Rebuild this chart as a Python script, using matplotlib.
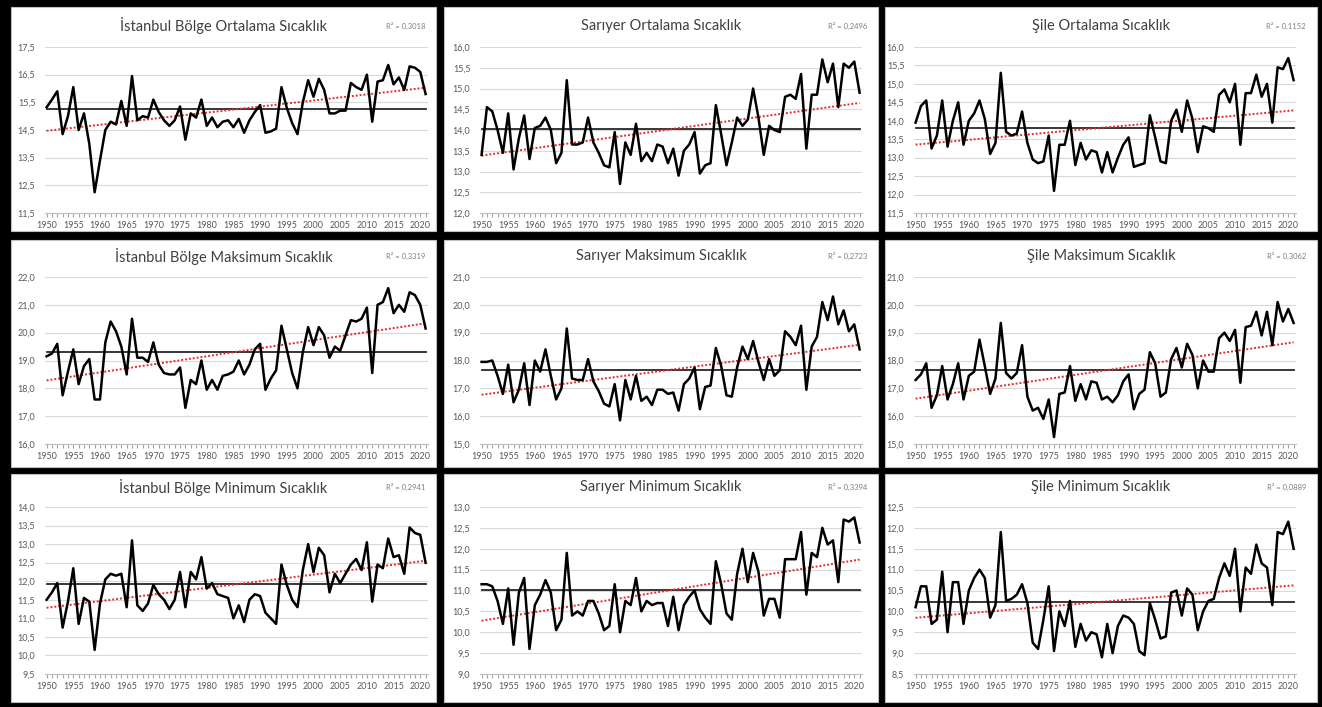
import numpy as np
import matplotlib.pyplot as plt
from matplotlib.patches import Rectangle

plt.rcParams['font.family'] = ['Lato', 'DejaVu Sans']

years = np.arange(1950, 2022)

# yearly values
ist_ort = [15.32, 15.6, 15.9, 14.35, 15.0, 16.05, 14.5, 15.1, 14.0, 12.25,
           13.4, 14.5, 14.8, 14.7, 15.55, 14.65, 16.45, 14.85, 15.0, 14.95,
           15.6, 15.15, 14.85, 14.65, 14.85, 15.35, 14.15, 15.1, 14.95, 15.6,
           14.65, 14.95, 14.6, 14.8, 14.85, 14.6, 14.9, 14.4, 14.85, 15.15,
           15.4, 14.4, 14.45, 14.55, 16.05, 15.3, 14.75, 14.35, 15.5, 16.3,
           15.7, 16.35, 15.95, 15.1, 15.1, 15.2, 15.2, 16.2, 16.05, 15.95,
           16.5, 14.8, 16.25, 16.3, 16.85, 16.15, 16.4, 15.95, 16.8, 16.75,
           16.6, 15.8]
sar_ort = [13.4, 14.55, 14.45, 14.0, 13.45, 14.4, 13.05, 13.8, 14.35, 13.3,
           14.05, 14.1, 14.3, 14.0, 13.2, 13.45, 15.2, 13.65, 13.65, 13.7,
           14.3, 13.7, 13.45, 13.15, 13.1, 13.95, 12.7, 13.7, 13.4, 14.15,
           13.25, 13.45, 13.25, 13.65, 13.6, 13.2, 13.55, 12.9, 13.5, 13.65,
           13.95, 12.95, 13.15, 13.2, 14.6, 13.9, 13.15, 13.7, 14.3, 14.1,
           14.25, 15.0, 14.3, 13.4, 14.1, 14.0, 13.95, 14.8, 14.85, 14.75,
           15.35, 13.55, 14.85, 14.85, 15.7, 15.15, 15.6, 14.55, 15.6, 15.5,
           15.65, 14.9]
sile_ort = [13.95, 14.4, 14.55, 13.25, 13.6, 14.55, 13.3, 14.0, 14.5, 13.35,
            14.0, 14.2, 14.55, 14.05, 13.1, 13.4, 15.3, 13.7, 13.6, 13.65,
            14.25, 13.4, 12.95, 12.85, 12.9, 13.6, 12.1, 13.35, 13.35, 14.0,
            12.8, 13.4, 12.95, 13.2, 13.15, 12.6, 13.15, 12.6, 13.0, 13.35,
            13.55, 12.75, 12.8, 12.85, 14.15, 13.55, 12.9, 12.85, 14.0, 14.3,
            13.7, 14.55, 14.05, 13.15, 13.85, 13.8, 13.7, 14.7, 14.85, 14.5,
            15.0, 13.35, 14.75, 14.75, 15.25, 14.65, 15.0, 13.95, 15.45, 15.4,
            15.7, 15.1]
ist_max = [19.15, 19.25, 19.6, 17.75, 18.6, 19.4, 18.15, 18.8, 19.05, 17.6,
           17.6, 19.65, 20.4, 20.05, 19.5, 18.5, 20.5, 19.1, 19.1, 18.95,
           19.65, 18.85, 18.55, 18.5, 18.5, 18.75, 17.3, 18.3, 18.15, 19.0,
           17.95, 18.3, 17.95, 18.45, 18.5, 18.6, 19.0, 18.5, 18.85, 19.4,
           19.6, 17.95, 18.35, 18.65, 20.25, 19.4, 18.55, 18.0, 19.3, 20.2,
           19.55, 20.2, 19.9, 19.1, 19.5, 19.35, 19.9, 20.45, 20.4, 20.5,
           20.9, 18.55, 21.0, 21.1, 21.6, 20.7, 21.0, 20.75, 21.45, 21.35,
           21.0, 20.15]
sar_max = [17.95, 17.95, 18.0, 17.45, 16.8, 17.85, 16.5, 16.95, 17.9, 16.4,
           18.0, 17.6, 18.4, 17.45, 16.6, 17.0, 19.15, 17.35, 17.3, 17.3,
           18.05, 17.25, 16.9, 16.45, 16.35, 17.15, 15.85, 17.3, 16.6, 17.45,
           16.55, 16.7, 16.4, 16.95, 16.95, 16.8, 16.85, 16.2, 17.15, 17.35,
           17.75, 16.25, 17.05, 17.1, 18.45, 17.8, 16.75, 16.7, 17.75, 18.5,
           18.05, 18.7, 17.95, 17.3, 18.05, 17.45, 17.65, 19.05, 18.85, 18.55,
           19.25, 16.95, 18.5, 18.85, 20.1, 19.45, 20.3, 19.3, 19.8, 19.05,
           19.3, 18.4]
sile_max = [17.3, 17.5, 17.9, 16.3, 16.75, 17.8, 16.6, 17.15, 17.9, 16.6,
            17.45, 17.6, 18.75, 17.8, 16.8, 17.35, 19.35, 17.55, 17.35, 17.55,
            18.55, 16.7, 16.2, 16.3, 15.9, 16.6, 15.25, 16.8, 16.85, 17.8,
            16.55, 17.15, 16.6, 17.25, 17.2, 16.6, 16.7, 16.5, 16.75, 17.25,
            17.5, 16.25, 16.8, 16.95, 18.3, 17.9, 16.7, 16.85, 18.05, 18.45,
            17.75, 18.6, 18.2, 17.0, 18.0, 17.6, 17.6, 18.8, 19.0, 18.7,
            19.1, 17.2, 19.2, 19.25, 19.75, 18.9, 19.75, 18.55, 20.1, 19.4,
            19.85, 19.35]
ist_min = [11.5, 11.7, 11.95, 10.75, 11.45, 12.35, 10.85, 11.55, 11.45, 10.15,
           11.4, 12.05, 12.2, 12.15, 12.2, 11.3, 13.1, 11.35, 11.2, 11.4,
           11.9, 11.65, 11.5, 11.25, 11.5, 12.25, 11.3, 12.25, 12.05, 12.65,
           11.8, 11.95, 11.65, 11.6, 11.55, 11.0, 11.35, 10.9, 11.5, 11.65,
           11.6, 11.15, 11.0, 10.85, 12.45, 11.9, 11.5, 11.3, 12.3, 13.0,
           12.25, 12.9, 12.7, 11.7, 12.2, 11.95, 12.2, 12.45, 12.6, 12.3,
           13.05, 11.45, 12.45, 12.35, 13.15, 12.65, 12.7, 12.2, 13.45, 13.3,
           13.25, 12.5]
sar_min = [11.15, 11.15, 11.1, 10.75, 10.2, 11.05, 9.7, 10.95, 11.3, 9.6,
           10.65, 10.9, 11.25, 10.95, 10.05, 10.3, 11.9, 10.4, 10.5, 10.4,
           10.75, 10.75, 10.45, 10.05, 10.15, 11.15, 10.0, 10.75, 10.65, 11.3,
           10.5, 10.75, 10.65, 10.7, 10.7, 10.15, 10.85, 10.05, 10.65, 10.85,
           11.0, 10.55, 10.35, 10.2, 11.7, 11.15, 10.45, 10.3, 11.4, 12.0,
           11.2, 11.9, 11.45, 10.4, 10.8, 10.8, 10.35, 11.75, 11.75, 11.75,
           12.4, 10.9, 11.9, 11.8, 12.5, 12.1, 12.2, 11.2, 12.7, 12.65,
           12.75, 12.15]
sile_min = [10.1, 10.6, 10.6, 9.7, 9.8, 10.95, 9.5, 10.7, 10.7, 9.7,
            10.5, 10.8, 11.0, 10.8, 9.85, 10.15, 11.9, 10.25, 10.3, 10.4,
            10.65, 10.2, 9.25, 9.1, 9.8, 10.6, 9.05, 10.0, 9.65, 10.25,
            9.15, 9.7, 9.3, 9.5, 9.45, 8.9, 9.7, 9.0, 9.65, 9.9,
            9.85, 9.7, 9.05, 8.95, 10.2, 9.8, 9.35, 9.4, 10.45, 10.5,
            9.9, 10.55, 10.4, 9.55, 10.0, 10.25, 10.3, 10.8, 11.15, 10.85,
            11.5, 10.0, 11.05, 10.9, 11.6, 11.15, 11.05, 10.15, 11.9, 11.85,
            12.15, 11.5]

series = [ist_ort, sar_ort, sile_ort, ist_max, sar_max, sile_max, ist_min, sar_min, sile_min]
titles = ['İstanbul Bölge Ortalama Sıcaklık', 'Sarıyer Ortalama Sıcaklık', 'Şile Ortalama Sıcaklık',
          'İstanbul Bölge Maksimum Sıcaklık', 'Sarıyer Maksimum Sıcaklık', 'Şile Maksimum Sıcaklık',
          'İstanbul Bölge Minimum Sıcaklık', 'Sarıyer Minimum Sıcaklık', 'Şile Minimum Sıcaklık']
r2_labels = ['0,3018', '0,2496', '0,1152', '0,3319', '0,2723', '0,3062', '0,2941', '0,3394', '0,0889']
y_ranges = [(11.5, 17.5, 1.0), (12.0, 16.0, 0.5), (11.5, 16.0, 0.5),
            (16.0, 22.0, 1.0), (15.0, 21.0, 1.0), (15.0, 21.0, 1.0),
            (9.5, 14.0, 0.5), (9.0, 13.0, 0.5), (8.5, 12.5, 0.5)]

W, H = 1322, 707
fig = plt.figure(figsize=(W / 100, H / 100), dpi=100, facecolor='black')

# pixel boxes: chart areas and plot areas
panel_x = [(11, 436), (444, 878), (885, 1317)]
panel_y = [(7, 231), (240, 467), (474, 702)]
plot_x = [(45, 428), (480, 862), (914, 1296)]
plot_y = [(47, 213), (277, 444), (507, 674)]
title_y = [26, 256, 487]

for i, vals in enumerate(series):
    r, c = divmod(i, 3)
    x0, x1 = panel_x[c]
    y0, y1 = panel_y[r]
    fig.add_artist(Rectangle((x0 / W, 1 - y1 / H), (x1 - x0) / W, (y1 - y0) / H,
                             transform=fig.transFigure, facecolor='white',
                             edgecolor='#BFBFBF', lw=0.8, zorder=-5))
    px0, px1 = plot_x[c]
    py0, py1 = plot_y[r]
    ax = fig.add_axes([px0 / W, 1 - py1 / H, (px1 - px0) / W, (py1 - py0) / H])
    ax.set_facecolor('none')

    vals = np.array(vals)
    m = vals.mean()
    k, b = np.polyfit(years, vals, 1)
    ax.plot(years, vals, color='black', lw=1.8, zorder=4)
    ax.plot([years[0], years[-1]], [m, m], color='#262626', lw=1.3, zorder=3)
    ax.plot(years, k * years + b, color='#E8282B', lw=1.4, ls=(0, (1, 1)), zorder=3)

    lo, hi, step = y_ranges[i]
    yt = np.arange(lo, hi + step / 2, step)
    ax.set_ylim(lo, hi)
    ax.set_yticks(yt)
    ax.set_yticklabels([f'{v:.1f}'.replace('.', ',') for v in yt])
    ax.set_xlim(1949.7, 2021.45)
    ax.set_xticks(years)
    ax.set_xticklabels([str(y) if y % 5 == 0 else '' for y in years])
    ax.grid(axis='y', color='#D9D9D9', lw=0.8)
    ax.set_axisbelow(True)
    for s in ['top', 'right', 'left']:
        ax.spines[s].set_visible(False)
    ax.spines['bottom'].set_color('#BFBFBF')
    ax.tick_params(axis='x', length=3, width=0.8, color='#A6A6A6', labelsize=6.5,
                   labelcolor='#595959', pad=3)
    ax.tick_params(axis='y', length=0, labelsize=6.5, labelcolor='#595959', pad=7)

    fig.text((x0 + x1) / 2 / W, 1 - title_y[r] / H, titles[i], ha='center', va='center',
             fontsize=10.5, color='#404040')
    fig.text((x1 - 11) / W, 1 - title_y[r] / H, 'R² = ' + r2_labels[i], ha='right',
             va='center', fontsize=5.5, color='#7F7F7F')

fig.savefig('out.png', dpi=100, facecolor='black')
